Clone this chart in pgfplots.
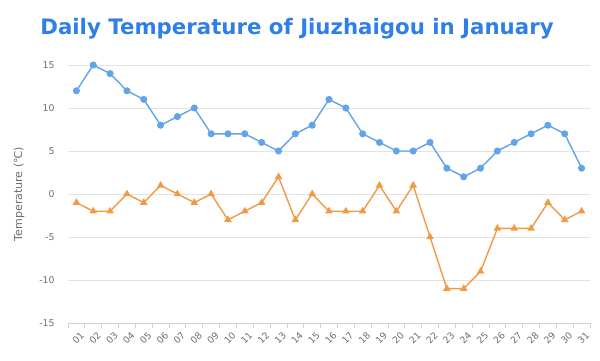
\documentclass[border=0pt]{standalone}
\usepackage{pgfplots}
\pgfplotsset{compat=1.18}
\usepackage{fontspec}
\setmainfont{DejaVu Sans}
\definecolor{titleblue}{HTML}{2F7FE6}
\definecolor{hiblue}{HTML}{63A4E8}
\definecolor{looran}{HTML}{F19A45}
\definecolor{gridc}{HTML}{E3E3E3}
\definecolor{axc}{HTML}{C5D3E2}
\definecolor{txt}{HTML}{6E6E6E}
\begin{document}
\begin{tikzpicture}[x=1pt,y=1pt]
\path (0,0) rectangle (600,360);
\node[anchor=center, font=\bfseries\fontsize{21.3}{24}\selectfont, text=titleblue] at (297,331) {Daily Temperature of Jiuzhaigou in January};
\begin{axis}[
  at={(68pt,37pt)}, anchor=south west,
  scale only axis, width=522pt, height=258pt,
  xmin=-0.5, xmax=30.5, ymin=-15, ymax=15,
  ytick={-15,-10,...,15},
  xtick={0,...,30},
  xticklabels={01,02,03,04,05,06,07,08,09,10,11,12,13,14,15,16,17,18,19,20,21,22,23,24,25,26,27,28,29,30,31},
  minor xtick={-0.5,0.5,...,30.5},
  major x tick style={draw=none},
  minor x tick style={draw=axc, line width=0.8pt},
  minor tick length=5pt,
  xtick align=outside,
  ytick style={draw=none},
  ymajorgrids, grid style={gridc, line width=0.8pt},
  axis x line*=bottom, axis y line*=left,
  x axis line style={draw=axc, line width=0.8pt, -},
  y axis line style={draw=none},
  /pgf/number format/assume math mode=true,
  tick label style={font=\fontsize{9.3}{11}\selectfont, text=txt},
  y tick label style={xshift=-10pt},
  x tick label style={rotate=45, anchor=north east, inner sep=0.3pt, yshift=-5pt},
  ylabel={Temperature (℃)},
  ylabel style={font=\fontsize{11}{13}\selectfont, text=txt, yshift=8pt},
  clip=false,
]
\addplot[hiblue, line width=1.4pt, mark=*, mark size=2.8pt, mark options={fill=hiblue, draw=hiblue}] coordinates {
(0,12)(1,15)(2,14)(3,12)(4,11)(5,8)(6,9)(7,10)(8,7)(9,7)(10,7)(11,6)(12,5)(13,7)(14,8)(15,11)(16,10)(17,7)(18,6)(19,5)(20,5)(21,6)(22,3)(23,2)(24,3)(25,5)(26,6)(27,7)(28,8)(29,7)(30,3)};
\addplot[looran, line width=1.4pt, mark=triangle*, mark size=3pt, mark options={fill=looran, draw=looran}] coordinates {
(0,-1)(1,-2)(2,-2)(3,0)(4,-1)(5,1)(6,0)(7,-1)(8,0)(9,-3)(10,-2)(11,-1)(12,2)(13,-3)(14,0)(15,-2)(16,-2)(17,-2)(18,1)(19,-2)(20,1)(21,-5)(22,-11)(23,-11)(24,-9)(25,-4)(26,-4)(27,-4)(28,-1)(29,-3)(30,-2)};
\end{axis}
\end{tikzpicture}
\end{document}
